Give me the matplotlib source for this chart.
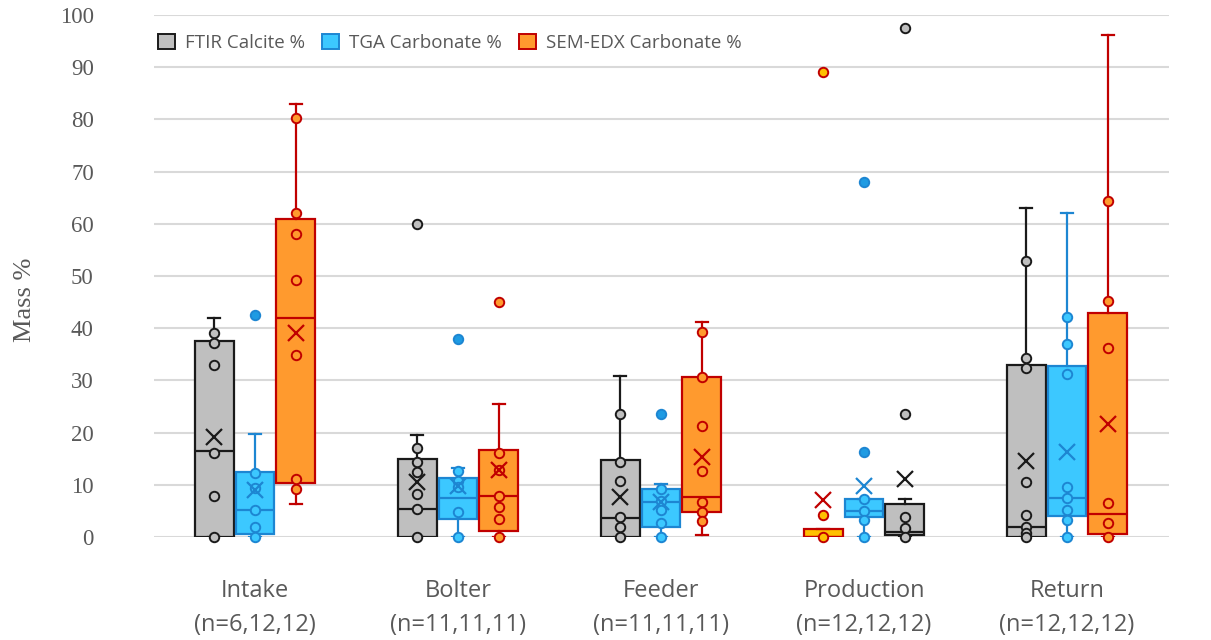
import matplotlib
matplotlib.use("Agg")
import matplotlib.pyplot as plt
from matplotlib.patches import Patch

# ---- data -------------------------------------------------------------
categories = ["Intake", "Bolter", "Feeder", "Production", "Return"]
n_labels = ["(n=6,12,12)", "(n=11,11,11)", "(n=11,11,11)", "(n=12,12,12)", "(n=12,12,12)"]
series_names = ["FTIR Calcite %", "TGA Carbonate %", "SEM-EDX Carbonate %"]

# FTIR calcite
ftir_q1 = [0.0, 0.0, 0.0, 0.3, 0.0]
ftir_med = [16.5, 5.3, 3.6, 0.9, 1.9]
ftir_q3 = [37.5, 15.0, 14.8, 6.4, 32.9]
ftir_lo = [0.0, 0.0, 0.0, 0.0, 0.0]
ftir_hi = [42.0, 19.5, 30.9, 7.2, 63.1]
ftir_mean = [19.2, 10.5, 7.7, 11.2, 14.5]
ftir_points = [
    [39.0, 37.1, 32.9, 16.1, 7.9, 0.0],
    [17.0, 14.3, 12.5, 8.2, 5.3, 0.0],
    [23.6, 14.3, 10.7, 3.9, 2.0, 0.0],
    [3.8, 1.7, 0.0],
    [52.8, 34.2, 32.4, 10.6, 4.3, 1.9, 0.8, 0.0],
]
ftir_outliers = [[], [60.0], [], [97.5, 23.5], []]

# TGA carbonate
tga_q1 = [0.6, 3.4, 1.9, 3.9, 4.0]
tga_med = [5.2, 7.5, 6.7, 5.0, 7.5]
tga_q3 = [12.4, 11.3, 9.2, 7.3, 32.7]
tga_lo = [0.0, 0.0, 0.0, 0.0, 0.0]
tga_hi = [19.7, 13.2, 10.2, 7.3, 62.1]
tga_mean = [9.0, 9.8, 6.7, 9.8, 16.3]
tga_points = [
    [12.2, 9.4, 5.2, 1.9, 0.0],
    [12.6, 10.7, 9.5, 4.7, 0.0],
    [9.2, 6.9, 5.2, 2.7, 0.0],
    [7.3, 4.9, 3.3, 0.0],
    [42.1, 37.0, 31.2, 9.6, 7.5, 5.2, 3.2, 0.0],
]
tga_outliers = [[42.5], [38.0], [23.6], [68.0, 16.2], []]

# SEM-EDX carbonate
sem_q1 = [10.3, 1.1, 4.8, 0.0, 0.5]
sem_med = [42.0, 7.9, 7.7, 0.0, 4.5]
sem_q3 = [61.0, 16.7, 30.7, 1.5, 42.9]
sem_lo = [6.3, 0.0, 0.4, 0.0, 0.0]
sem_hi = [82.9, 25.5, 41.2, 1.5, 96.2]
sem_mean = [39.0, 12.8, 15.4, 7.1, 21.6]
sem_points = [
    [80.2, 62.0, 58.0, 49.2, 34.9, 11.2, 9.2],
    [16.1, 12.8, 7.9, 5.7, 3.4, 0.0],
    [39.3, 30.7, 21.2, 12.6, 6.7, 4.8, 3.1],
    [0.0],
    [64.3, 45.2, 36.3, 6.6, 2.7, 0.0],
]
sem_outliers = [[], [45.0], [], [89.0, 4.2], []]

# ---- styling ----------------------------------------------------------
GREY_TXT = "#595959"
styles = [
    dict(fill=["#BFBFBF"] * 5, edge="#1A1A1A", dot="#BFBFBF"),
    dict(fill=["#3CC8FF"] * 5, edge="#1D86D2", dot="#1E9BE3"),
    dict(fill=["#FF9A2E", "#FF9A2E", "#FF9A2E", "#FFC000", "#FF9A2E"],
         edge="#C00000", dot=None),
]
# horizontal slot of each series inside a category group
offsets = [
    [-0.2, -0.2, -0.2, 0.2, -0.2],
    [0.0, 0.0, 0.0, 0.0, 0.0],
    [0.2, 0.2, 0.2, -0.2, 0.2],
]

series = [
    (ftir_q1, ftir_med, ftir_q3, ftir_lo, ftir_hi, ftir_mean, ftir_points, ftir_outliers),
    (tga_q1, tga_med, tga_q3, tga_lo, tga_hi, tga_mean, tga_points, tga_outliers),
    (sem_q1, sem_med, sem_q3, sem_lo, sem_hi, sem_mean, sem_points, sem_outliers),
]

W, H = 1211, 640
fig = plt.figure(figsize=(W / 100, H / 100), dpi=100)
ax = fig.add_axes([153.5 / W, 1 - 537 / H, 1015 / W, 522 / H])

for s_idx, (q1, med, q3, lo, hi, mean, pts, outs) in enumerate(series):
    st = styles[s_idx]
    for c in range(len(categories)):
        pos = c + offsets[s_idx][c]
        fill = st["fill"][c]
        edge = st["edge"]
        stats = [dict(q1=q1[c], med=med[c], q3=q3[c], whislo=lo[c],
                      whishi=hi[c], mean=mean[c], fliers=[])]
        ax.bxp(stats, positions=[pos], widths=0.19, capwidths=0.06,
               patch_artist=True, showfliers=False, showmeans=False,
               manage_ticks=False,
               boxprops=dict(facecolor=fill, edgecolor=edge, linewidth=1.6),
               medianprops=dict(color=edge, linewidth=1.6),
               whiskerprops=dict(color=edge, linewidth=1.6),
               capprops=dict(color=edge, linewidth=1.6))
        ax.plot([pos] * len(pts[c]), pts[c], "o", ms=6.8, mfc=fill, mec=edge,
                mew=1.4, zorder=4, clip_on=False)
        dot = st["dot"] or fill
        ax.plot([pos] * len(outs[c]), outs[c], "o", ms=6.8, mfc=dot, mec=edge,
                mew=1.4, zorder=4, clip_on=False)
        ax.plot([pos], [mean[c]], marker="x", ms=11.5, mew=1.6, color=edge,
                linestyle="none", zorder=5)

ax.set_xlim(-0.5, 4.5)
ax.set_ylim(0, 100)
ax.set_yticks(range(0, 101, 10))
ax.set_xticks(range(len(categories)))
ax.set_xticklabels([f"{c}\n{n}" for c, n in zip(categories, n_labels)],
                   family=["Open Sans", "DejaVu Sans"], fontsize=17,
                   color=GREY_TXT, linespacing=1.55)
for lab in ax.get_yticklabels():
    lab.set_family(["Liberation Serif", "DejaVu Serif"])
    lab.set_fontsize(16.5)
    lab.set_color(GREY_TXT)
ax.tick_params(axis="y", length=0, pad=43)
ax.tick_params(axis="x", length=0, pad=30)
ax.grid(axis="y", color="#D9D9D9", linewidth=1.5)
ax.set_axisbelow(True)
for sp in ax.spines.values():
    sp.set_visible(False)

fig.text(25 / W, 1 - 300 / H, "Mass %", rotation=90, ha="center", va="center",
         family=["Liberation Serif", "DejaVu Serif"], fontsize=19, color=GREY_TXT)

handles = [Patch(facecolor=styles[i]["fill"][0], edgecolor=styles[i]["edge"],
                 linewidth=1.4) for i in range(3)]
leg = fig.legend(handles, series_names, loc="center left",
                 bbox_to_anchor=(143 / W, 1 - 43 / H), ncol=3, frameon=True,
                 facecolor="white", edgecolor="none", framealpha=1,
                 borderpad=0.3, handlelength=0.9, handleheight=0.9,
                 handletextpad=0.55, columnspacing=0.9,
                 prop=dict(family=["Open Sans", "DejaVu Sans"], size=13.5))
for t in leg.get_texts():
    t.set_color(GREY_TXT)

fig.savefig("out.png", dpi=100)
